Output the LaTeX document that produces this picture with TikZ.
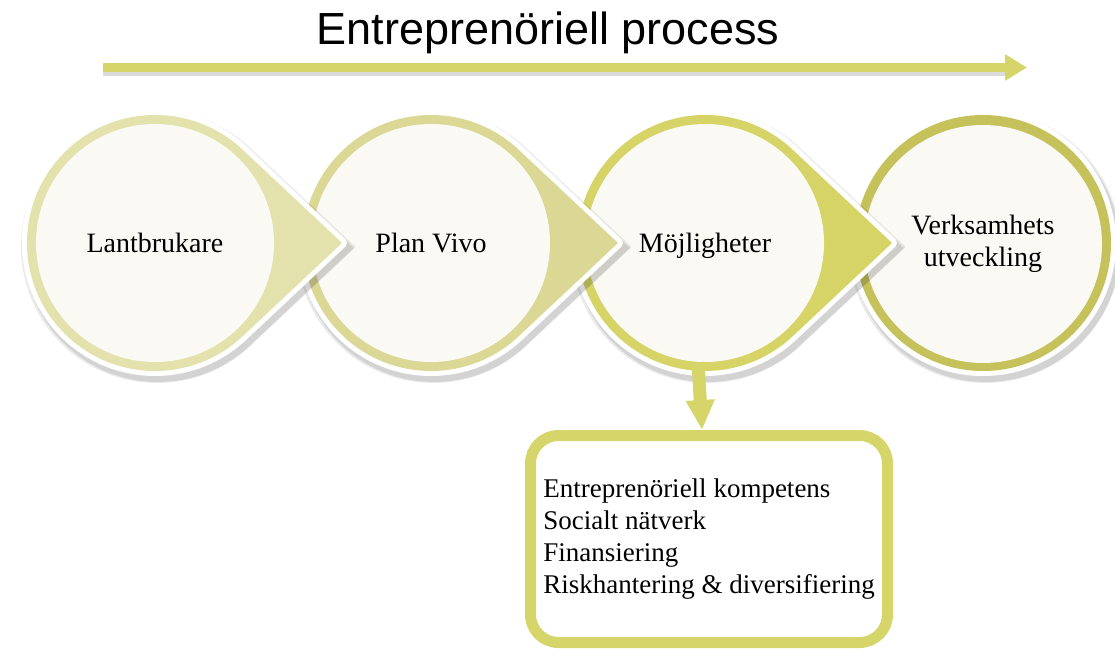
\documentclass[tikz,border=0pt]{standalone}
\usepackage{fontspec}
\setmainfont{Liberation Serif}
\newfontfamily\rubrikfont{Liberation Sans}
\usetikzlibrary{arrows.meta}

\definecolor{ringA}{HTML}{E3E1AC}
\definecolor{ringB}{HTML}{DAD894}
\definecolor{ringC}{HTML}{D6D466}
\definecolor{ringD}{HTML}{C5C25B}
\definecolor{kernfarg}{HTML}{FAF9F3}
\definecolor{pil}{HTML}{D6D56A}

\tikzset{
  droppe/.style 2 args={insert path={(#1,-243) ++(46.8:#2) arc[start angle=46.8, end angle=313.2, radius=#2] -- ({#1+1.461*#2},-243) -- cycle}},
  kern/.style={circle, fill=kernfarg, minimum size=238pt, inner sep=0pt, align=center, font=\fontsize{28}{32}\selectfont},
}

\begin{document}
\begin{tikzpicture}[x=1pt, y=1pt]
\useasboundingbox (0,0) rectangle (1115,-652);

% rubrik och pil
\node[anchor=base, font=\rubrikfont\fontsize{45}{50}\selectfont] (titel) at (548,-45) {Entreprenöriell process};
\coordinate (start) at (103,-67.5);
\coordinate (slut) at (1027,-67.5);
\draw[black!40, opacity=.35, line width=7pt] ([yshift=-5pt]start) -- ([shift={(-20pt,-5pt)}]slut);
\draw[pil, line width=9pt, -{Triangle[length=22pt, width=25pt]}] (start) -- (slut);

% sista cirkeln, utan spets
\fill[black, opacity=.08] (985,-247) circle (136);
\fill[black, opacity=.10] (986,-248) circle (134);
\fill[white] (983,-243) circle (133);
\fill[ringD] (983,-243) circle (128);
\node[kern] (verks) at (983,-244) {Verksamhets\\utveckling};

% hoger till vanster, sa att varje spets ligger ovanpa nasta cirkel
\foreach \x/\farg/\namn/\txt in {705/ringC/moj/Möjligheter, 431/ringB/plan/Plan Vivo, 155/ringA/lant/Lantbrukare}{
  \fill[black, opacity=.08, shift={(2,-4)}, droppe={\x}{136}];
  \fill[black, opacity=.10, shift={(3,-5)}, droppe={\x}{134}];
  \filldraw[white, line width=10pt, line join=round, droppe={\x}{128}];
  \fill[\farg, droppe={\x}{128}];
  \node[kern] (\namn) at (\x,-243) {\raisebox{0pt}[\height][0pt]{\txt}};
}

% faktorer
\node[draw=pil, line width=11pt, rounded corners=28pt, fill=white, minimum width=357pt, minimum height=207pt,
      align=left, font=\fontsize{27}{32}\selectfont] (faktor) at (709,-539)
  {Entreprenöriell kompetens\\Socialt nätverk\\Finansiering\\Riskhantering \& diversifiering};
\draw[pil, line width=13pt, -{Triangle[length=30pt, width=27pt]}] ([xshift=-7pt]moj.south) -- ([xshift=-7pt]faktor.north);
\end{tikzpicture}
\end{document}
